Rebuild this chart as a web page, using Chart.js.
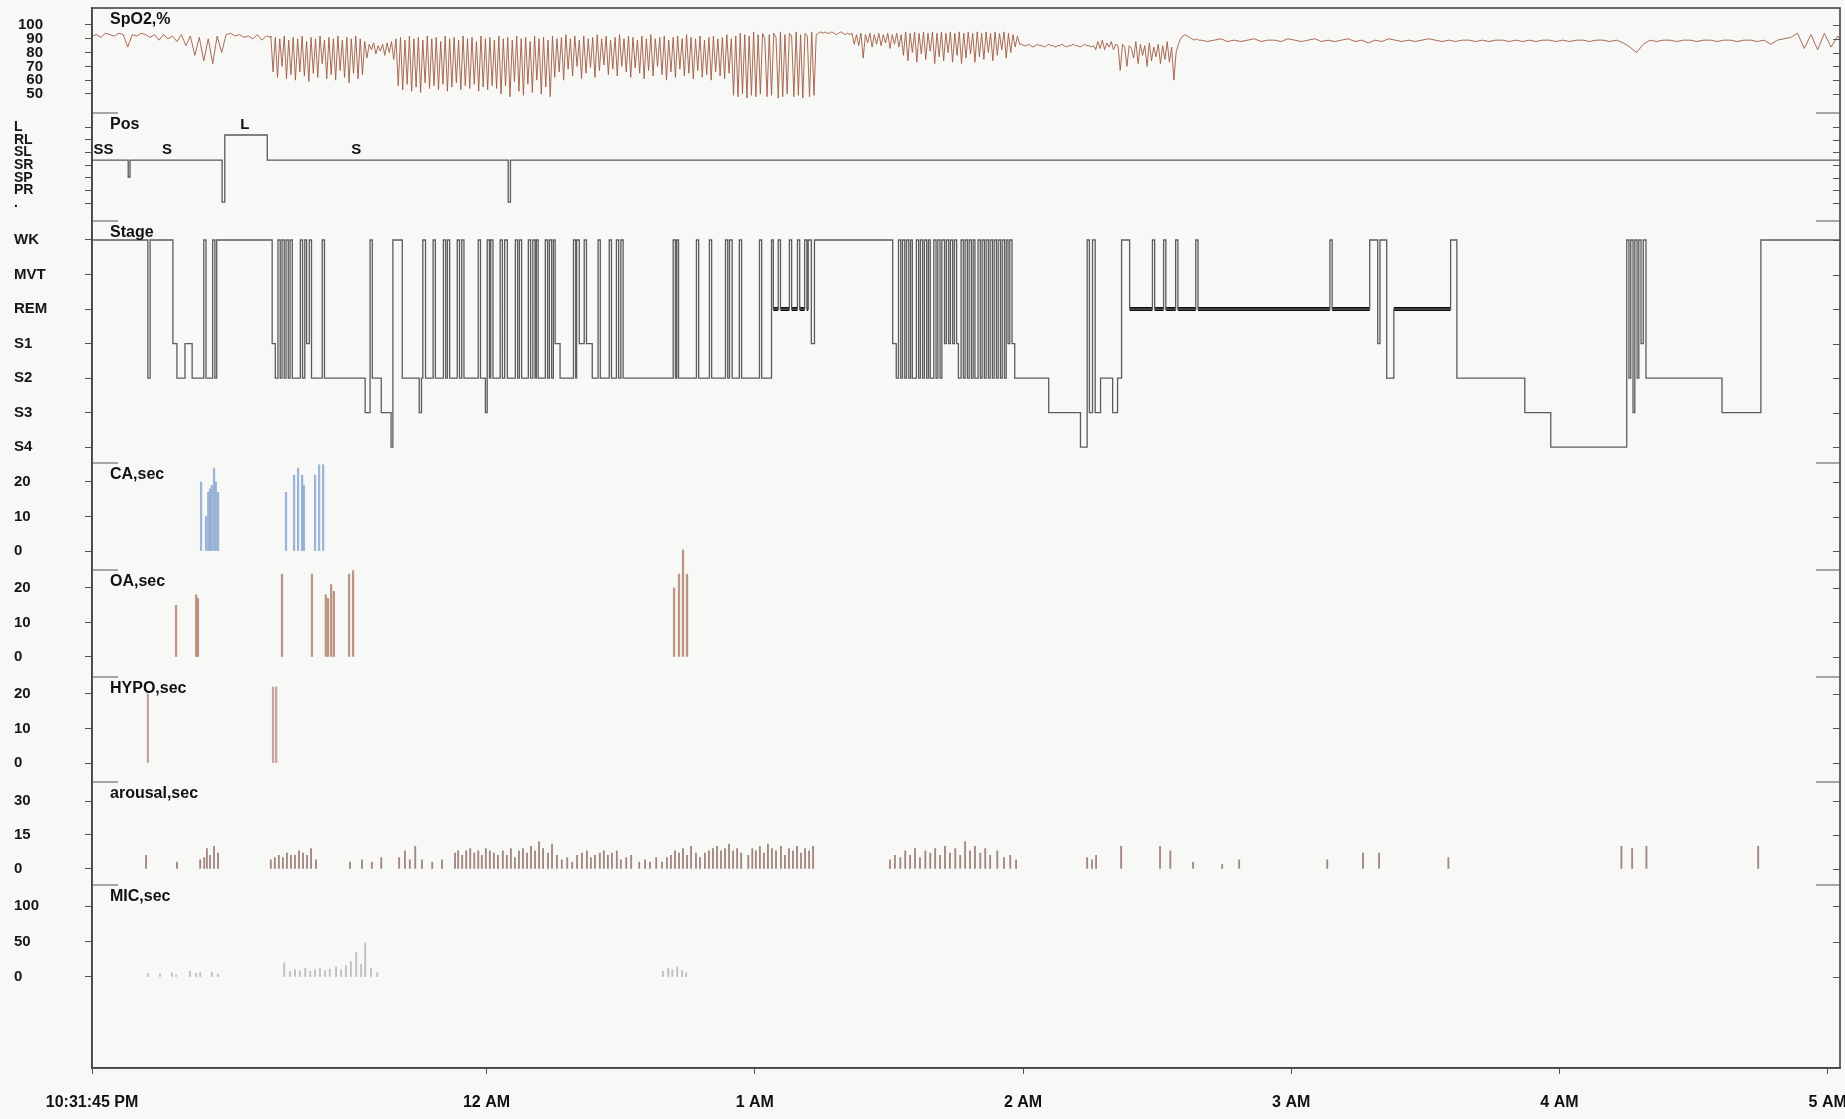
<!DOCTYPE html>
<html>
<head>
<meta charset="utf-8">
<title>Sleep study overview</title>
<script src="https://cdn.jsdelivr.net/npm/chart.js@4.4.1/dist/chart.umd.min.js"></script>
<style>
  html, body { margin: 0; padding: 0; background: #f8f8f6; }
  #psg { display: block; }
</style>
</head>
<body>
<canvas id="psg" width="1845" height="1119"></canvas>
<script>
// time axis in minutes after 10:31:45 PM
var xEnd = 391;
var xTickMinutes = [0, 88.25, 148.25, 208.25, 268.25, 328.25, 388.25];
var xTickLabels = ['10:31:45 PM', '12 AM', '1 AM', '2 AM', '3 AM', '4 AM', '5 AM'];

var panelTitles = ['SpO2,%', 'Pos', 'Stage', 'CA,sec', 'OA,sec', 'HYPO,sec', 'arousal,sec', 'MIC,sec'];

// SpO2 (%), sampled runs: start minute, sample step, values
var spo2RunStart = [0, 40, 163, 208, 248];
var spo2RunStep = [1, 0.5, 0.5, 0.5, 1.5];
var spo2Run0 = [92, 93, 91, 94, 93, 92, 94, 93, 84, 93, 92, 94, 93, 91, 93, 89, 93, 90, 92, 88,
  93, 85, 92, 78, 91, 74, 90, 72, 92, 80, 93, 94, 92, 93, 91, 92, 90, 93, 89, 92, 91];
var spo2Run1 = [
  92, 66, 91, 62, 90, 70, 92, 61, 89, 64,
  91, 60, 90, 66, 92, 63, 88, 59, 91, 65,
  90, 62, 92, 72, 89, 61, 91, 64, 90, 60,
  92, 67, 89, 62, 91, 58, 90, 65, 92, 61,
  90, 64, 88, 76, 86, 82, 87, 79, 85, 81,
  86, 78, 87, 80, 88, 75, 90, 56, 91, 53,
  89, 57, 92, 52, 90, 55, 91, 51, 89, 58,
  92, 54, 90, 56, 91, 53, 88, 57, 92, 52,
  90, 55, 91, 58, 89, 53, 92, 56, 90, 54,
  91, 57, 88, 52, 92, 55, 90, 53, 91, 56,
  89, 54, 92, 50, 90, 56, 91, 48, 89, 59,
  92, 52, 90, 49, 91, 57, 88, 51, 92, 60,
  90, 50, 91, 55, 89, 48, 92, 62, 90, 66,
  91, 60, 93, 68, 90, 63, 92, 70, 89, 61,
  92, 65, 90, 69, 91, 62, 93, 67, 90, 71,
  92, 64, 89, 68, 91, 63, 93, 70, 90, 66,
  92, 62, 91, 69, 89, 65, 92, 61, 90, 67,
  93, 63, 90, 70, 91, 64, 92, 60, 89, 66,
  91, 62, 92, 68, 90, 63, 93, 65, 91, 61,
  90, 67, 92, 62, 89, 64, 91, 60, 92, 66,
  90, 63, 91, 61, 93, 65, 90, 49, 92, 48,
  94, 50, 93, 47, 92, 49, 95, 48, 93, 50,
  94, 90, 48, 93, 49, 94, 91, 47, 95, 48,
  93, 50, 94, 92, 48, 95, 49, 93, 47, 94,
  92, 48, 95, 49, 93, 94, 95];
var spo2Run2 = [
  95, 94, 95, 94, 94, 95, 94, 93, 94, 95, 94, 93, 94, 93, 94,
  86, 93, 85, 94, 76, 93, 87, 94, 84, 93, 86, 94, 85, 93, 87, 94, 83, 93, 86, 94, 84, 93,
  78, 95, 74, 94, 80, 95, 73, 94, 79, 95,
  75, 94, 81, 95, 72, 94, 77, 95, 74, 94,
  80, 95, 73, 94, 78, 95, 72, 94, 76, 95,
  79, 94, 73, 95, 77, 94, 75, 95, 80, 94,
  74, 95, 78, 94, 82, 95, 76, 94, 80, 93,
  84, 92, 86, 86];
var spo2Run3 = [
  86, 85, 85, 86, 85, 84, 85, 86, 85, 85, 84, 85, 86, 85, 85, 84, 85, 85, 86, 85, 84, 85, 85, 86, 85, 85, 84, 85, 86, 85, 85, 84, 85,
  82, 88, 83, 89, 82, 87, 84, 88, 82, 86, 85,
  67, 86, 84, 70, 85, 83,
  76, 88, 72, 86, 78, 85, 70, 87, 74, 84, 77, 86, 72, 85, 75, 88, 73, 84, 60, 80, 86, 90, 92,
  93, 92, 91, 90, 89, 90, 89, 89];
var spo2Run4 = [
  89, 88, 89, 90, 88, 89, 88, 89, 90, 88,
  89, 89, 88, 90, 89, 88, 89, 90, 88, 89,
  88, 89, 90, 88, 89, 87, 89, 88, 90, 89,
  88, 89, 88, 89, 90, 89, 88, 89, 88, 89,
  89, 88, 89, 88, 89, 89, 88, 89, 88, 89,
  88, 89, 89, 88, 89, 88, 89, 89, 88, 89,
  89, 88, 89, 87, 84, 80, 86, 89, 88, 89,
  89, 88, 89, 89, 88, 89, 89, 88, 89, 89,
  88, 89, 89, 88, 89, 86, 89, 90, 91, 94,
  83, 93, 82, 94, 84, 92, 85];
var spo2Ticks = [100, 90, 80, 70, 60, 50];

// body position: axis labels with their tick values, and [minute, level] changes
var posNames = ['L', 'RL', 'SL', 'SR', 'SP', 'PR', '.'];
var posTickValues = [-0.95, 0.56, 2.07, 3.58, 5.09, 6.6, 8.11];
var posSteps = [[0, 3], [8.1, 5], [8.5, 3], [29.1, 8], [29.7, 0], [39.2, 3], [93.1, 8], [93.6, 3], [391, 3]];
var posMarks = [[2.6, 'SS'], [16.8, 'S'], [34.2, 'L'], [59.1, 'S']];

// sleep stage: 0 WK, 1 MVT, 2 REM, 3 S1, 4 S2, 5 S3, 6 S4; [minute, stage] changes
var stageNames = ['WK', 'MVT', 'REM', 'S1', 'S2', 'S3', 'S4'];
var stageSteps = [
  [0, 0], [12.5, 4], [13, 0], [18.1, 3], [19, 4], [20.8, 3], [22.4, 4], [25, 0], [25.5, 4],
  [27, 0], [27.5, 4], [27.9, 0], [40.3, 3], [41, 4], [41.6, 0], [42.1, 4], [42.5, 0], [43, 4],
  [43.4, 0], [43.9, 4], [44.3, 0], [44.8, 4], [46.6, 0], [47.1, 4], [47.6, 0], [48, 3], [48.6, 0],
  [49.1, 4], [51.5, 0], [52, 4], [61.1, 5], [62.2, 0], [62.7, 4], [64.7, 5], [66.9, 6], [67.3, 0],
  [69.4, 4], [73.2, 5], [73.7, 4], [74, 0], [74.6, 4], [76.3, 0], [76.8, 4], [78.6, 0], [79.1, 4],
  [79.5, 0], [80, 4], [81.7, 0], [82.2, 4], [82.7, 0], [83.2, 4], [86.4, 0], [86.9, 4], [88, 5],
  [88.4, 0], [88.9, 4], [89.2, 0], [89.7, 4], [91.3, 0], [91.8, 4], [92.3, 0], [92.9, 4], [94.7, 0],
  [95.2, 4], [95.6, 0], [96.1, 4], [97.6, 0], [98.1, 4], [98.6, 0], [99.1, 4], [99.4, 0], [99.8, 4],
  [101.4, 0], [101.9, 4], [102.3, 0], [102.8, 4], [103.2, 0], [103.6, 3], [104.7, 4], [107.7, 0],
  [108.2, 4], [108.4, 0], [109, 3], [110.1, 0], [110.6, 3], [111.9, 4], [113.2, 0], [113.7, 4],
  [115.7, 0], [116.2, 4], [117.3, 0], [117.8, 4], [118.3, 0], [118.8, 4], [130, 0], [130.5, 4],
  [130.8, 0], [131.2, 4], [135.2, 0], [135.7, 4], [138.1, 0], [138.6, 4], [141.7, 0], [142.2, 4],
  [142.6, 0], [143.2, 4], [144.8, 0], [145.3, 4], [149.3, 0], [149.8, 4], [152, 0], [152.4, 2],
  [153.5, 0], [154, 2], [156, 0], [156.5, 2], [157.8, 0], [158.3, 2], [159.4, 0], [159.9, 2],
  [160.2, 0], [160.9, 3], [161.6, 0], [179.1, 3], [179.9, 4],
  [180.4, 0], [180.9, 4], [181.3, 0], [181.8, 4], [182.2, 0], [182.7, 4], [183.1, 0], [183.5, 4],
  [184.4, 0], [184.9, 4], [185.3, 0], [185.8, 4], [186.2, 0], [186.7, 4], [187.1, 0], [187.5, 4],
  [188.3, 0], [188.8, 4], [189.2, 0], [189.7, 4], [190.1, 0], [190.7, 3], [191.1, 0], [191.6, 3],
  [192, 0], [192.5, 3], [192.9, 0], [193.4, 3], [193.8, 4], [194.4, 0], [194.9, 4], [195.3, 0],
  [195.8, 4], [196.2, 0], [196.7, 4], [197.1, 0], [197.5, 4], [198.2, 0], [198.7, 4], [199.1, 0],
  [199.6, 4], [200, 0], [200.5, 4], [200.9, 0], [201.4, 4], [201.8, 0], [202.3, 4], [202.7, 0],
  [203.2, 4], [203.6, 0], [204.1, 4], [204.5, 0], [204.9, 3], [205.3, 0], [205.8, 3], [206.4, 4],
  [214, 5], [221.1, 6], [222.6, 0], [223.1, 5], [223.8, 0], [224.4, 5], [225.6, 4], [228.3, 5],
  [229.4, 4], [230.3, 0], [232.1, 2], [237.2, 0], [237.7, 2], [239.7, 0], [240.2, 2], [242.4, 0],
  [242.9, 2], [246.9, 0], [247.4, 2], [276.9, 0], [277.4, 2], [285.8, 0], [287.6, 3], [288.1, 0],
  [289.6, 4], [291.2, 2], [303.9, 0], [305.3, 4], [320.5, 5], [326.3, 6], [343.3, 0], [343.8, 4],
  [344.2, 0], [344.7, 5], [345.1, 0], [345.6, 4], [346, 0], [346.5, 3], [347, 0], [347.6, 4],
  [364.6, 5], [373.3, 0], [391, 0]
];

// respiratory events: [minute, duration in seconds]
var caBars = [[24.4, 20], [25.5, 10], [26, 17], [26.4, 18], [26.8, 19], [27.3, 24], [27.7, 20], [28.2, 17],
  [43.4, 17], [45.2, 22], [46.1, 24], [47, 22], [47.4, 19], [49.9, 22], [50.8, 25], [51.7, 25]];
var oaBars = [[18.8, 15], [23.3, 18], [23.7, 17], [42.5, 24], [49.2, 24], [52.3, 18], [52.8, 17], [53.5, 21],
  [54.1, 19], [57.5, 24], [58.4, 25], [130.2, 20], [131.3, 24], [132.2, 31], [133.1, 24]];
var hypoBars = [[12.5, 20], [40.5, 22], [41.2, 22]];
var eventTicks = [20, 10, 0];

var arousalBars = [
  [12.1, 6], [19, 3], [24.2, 4], [25.1, 5], [25.7, 9], [26.4, 6], [27.3, 10], [28.2, 7],
  [40, 4], [40.9, 5], [41.8, 6], [42.7, 5], [43.6, 7], [44.5, 6], [45.4, 6], [46.3, 8], [47.2, 7], [48.1, 6], [49, 9], [50.1, 4],
  [57.7, 3], [60.4, 4], [62.6, 3], [64.7, 5],
  [68.7, 5], [70, 8], [71.1, 4], [72.3, 10], [73.8, 4], [76.1, 3], [78.3, 4],
  [81.2, 7], [81.9, 8], [82.8, 6], [83.7, 8], [84.6, 9], [85.5, 7], [86.4, 8], [87.2, 6], [88.1, 9], [89, 8], [89.9, 7], [90.8, 6],
  [91.9, 8], [92.8, 6], [93.7, 9], [94.6, 5], [95.5, 8], [96.4, 9], [97.3, 7], [98.2, 10], [99.1, 8], [100, 12], [100.9, 9], [102, 7], [102.9, 11], [104, 6],
  [105.1, 4], [106.3, 5], [107.4, 3], [108.5, 6], [109.6, 7], [110.7, 8], [111.6, 5], [112.5, 6],
  [113.6, 7], [114.5, 8], [115.4, 6], [116.3, 7], [117.4, 8], [118.3, 4], [119.5, 5], [120.6, 6],
  [122.4, 3], [123.7, 4], [124.8, 3], [126.2, 5], [127.5, 3],
  [128.6, 5], [129.5, 6], [130.4, 8], [131.3, 7], [132.2, 9], [133.1, 6], [134, 10], [135.1, 7], [136, 5],
  [137.1, 7], [138, 8], [138.9, 9], [139.8, 10], [140.7, 8], [141.6, 9], [142.5, 11], [143.4, 8], [144.3, 9], [145.2, 7],
  [146.8, 6], [147.7, 9], [148.5, 8], [149.4, 10], [150.3, 7], [151.2, 11], [152.1, 9], [153, 8],
  [154.1, 10], [155, 6], [155.9, 9], [156.8, 8], [157.7, 10], [158.6, 7], [159.5, 9], [160.4, 8], [161.3, 10],
  [178.5, 4], [179.6, 6], [180.8, 5], [181.9, 8], [183, 6], [184.1, 9], [185.2, 5], [186.4, 8], [187.5, 7], [188.6, 9],
  [189.7, 6], [190.8, 10], [191.9, 7], [193.1, 9], [194.2, 6], [195.3, 12], [196.4, 8], [197.5, 10], [198.7, 7], [199.8, 9],
  [200.9, 6], [202.5, 8], [204, 5], [205.4, 6], [206.7, 4],
  [222.6, 5], [223.7, 4], [224.6, 6], [230.2, 10], [238.9, 10], [241.2, 8], [246.3, 3], [252.8, 2], [256.6, 4],
  [276.3, 4], [284.3, 7], [287.9, 7], [303.4, 5], [342.1, 10], [344.5, 9], [347.7, 10], [372.7, 10]
];
var arousalTicks = [30, 15, 0];

var micBars = [
  [12.5, 5], [15.2, 4], [17.9, 6], [18.8, 3], [21.9, 8], [23.3, 5], [24.2, 6], [26.8, 7], [28.2, 4],
  [43, 20], [44.3, 8], [45.4, 10], [46.5, 9], [47.7, 12], [48.8, 8], [49.9, 10], [51, 12], [52.1, 9], [53.2, 11],
  [54.6, 14], [55.7, 10], [56.8, 16], [57.9, 22], [59.1, 35], [60.2, 18], [61.1, 48], [62.4, 12], [63.8, 6],
  [127.7, 8], [128.9, 12], [129.8, 10], [130.9, 14], [132, 9], [132.9, 6]
];
var micTicks = [100, 50, 0];

function toPoints(pairs) {
  return pairs.map(function (p) { return { x: p[0], y: p[1] }; });
}

function runPoints(start, step, values) {
  return values.map(function (v, i) { return { x: start + i * step, y: v }; });
}

function stepValueAt(steps, t) {
  var v = steps[0][1];
  for (var i = 0; i < steps.length; i++) {
    if (steps[i][0] <= t) v = steps[i][1];
  }
  return v;
}

var fontFamily = "'Liberation Sans', Arial, sans-serif";
var labelFont = { family: fontFamily, size: 15, weight: 'bold' };

function panelAxis(weight, height, min, max, ticks, extra) {
  var axis = {
    type: 'linear', position: 'left', stack: 'panels', weight: weight, stackWeight: height,
    min: min, max: max,
    afterBuildTicks: function (s) { s.ticks = ticks.map(function (v) { return { value: v }; }); },
    afterFit: function (s) { s.width = 78; s.paddingTop = 0; s.paddingBottom = 0; },
    grid: { drawOnChartArea: false, drawTicks: true, tickLength: 7, color: '#555' },
    border: { display: true, color: '#4a4a4a', width: 1.5 },
    ticks: { autoSkip: false, crossAlign: 'far', color: '#161616', font: labelFont }
  };
  if (extra) {
    Object.keys(extra).forEach(function (k) {
      axis[k] = typeof extra[k] === 'object' && axis[k] ? Object.assign({}, axis[k], extra[k]) : extra[k];
    });
  }
  return axis;
}

var panelIds = ['ySpo2', 'yPos', 'yStage', 'yCa', 'yOa', 'yHypo', 'yArousal', 'yMic'];

var panelDecor = {
  id: 'panelDecor',
  afterDraw: function (chart) {
    var ctx = chart.ctx, a = chart.chartArea;
    function line(x1, y1, x2, y2) { ctx.beginPath(); ctx.moveTo(x1, y1); ctx.lineTo(x2, y2); ctx.stroke(); }
    ctx.save();
    ctx.strokeStyle = '#444';
    ctx.lineWidth = 1.6;
    ctx.strokeRect(a.left, a.top, a.right - a.left, a.bottom - a.top);
    ctx.lineWidth = 1;
    ctx.strokeStyle = '#555';
    ctx.fillStyle = '#111';
    ctx.font = 'bold 16px ' + fontFamily;
    ctx.textBaseline = 'top';
    ctx.textAlign = 'left';
    panelIds.forEach(function (id, k) {
      var s = chart.scales[id];
      if (k > 0) {
        line(a.left, s.top, a.left + 26, s.top);
        line(a.right - 24, s.top, a.right, s.top);
      }
      s.ticks.forEach(function (t) {
        var y = Math.round(s.getPixelForValue(t.value)) + 0.5;
        line(a.right - 7, y, a.right, y);
      });
      ctx.fillText(panelTitles[k], a.left + 18, s.top + 4);
    });
    // position codes written above the trace
    var xs = chart.scales.x, ps = chart.scales.yPos;
    ctx.textAlign = 'center';
    ctx.textBaseline = 'bottom';
    ctx.font = 'bold 15px ' + fontFamily;
    posMarks.forEach(function (m) {
      ctx.fillText(m[1], xs.getPixelForValue(m[0]), ps.getPixelForValue(stepValueAt(posSteps, m[0])) - 3);
    });
    ctx.restore();
  }
};

window.onload = function () {
  var spo2Points = []
    .concat(runPoints(spo2RunStart[0], spo2RunStep[0], spo2Run0))
    .concat(runPoints(spo2RunStart[1], spo2RunStep[1], spo2Run1))
    .concat(runPoints(spo2RunStart[2], spo2RunStep[2], spo2Run2))
    .concat(runPoints(spo2RunStart[3], spo2RunStep[3], spo2Run3))
    .concat(runPoints(spo2RunStart[4], spo2RunStep[4], spo2Run4));

  // REM periods get a heavy bar along the REM level
  var remPoints = [];
  for (var i = 0; i < stageSteps.length - 1; i++) {
    if (stageSteps[i][1] === 2) {
      remPoints.push({ x: stageSteps[i][0], y: 2 }, { x: stageSteps[i + 1][0], y: 2 }, { x: stageSteps[i + 1][0], y: null });
    }
  }

  function bars(axisId, pairs, color, thickness) {
    return { type: 'bar', yAxisID: axisId, data: toPoints(pairs), backgroundColor: color,
      barThickness: thickness, grouped: false, borderWidth: 0 };
  }

  var ctx = document.getElementById('psg').getContext('2d');
  var psgChart = new Chart(ctx, {
    type: 'line',
    data: {
      datasets: [
        { yAxisID: 'ySpo2', data: spo2Points, borderColor: 'rgba(160, 92, 66, 0.9)', borderWidth: 1, pointRadius: 0, tension: 0 },
        { yAxisID: 'yPos', data: toPoints(posSteps), borderColor: '#5a5a5a', borderWidth: 1.3, pointRadius: 0, stepped: true },
        { yAxisID: 'yStage', data: toPoints(stageSteps), borderColor: '#5c5c5c', borderWidth: 1.3, pointRadius: 0, stepped: true },
        { yAxisID: 'yStage', data: remPoints, borderColor: '#111', borderWidth: 4, pointRadius: 0, spanGaps: false },
        bars('yCa', caBars, 'rgba(125, 158, 206, 0.75)', 1.6),
        Object.assign(bars('yOa', oaBars, 'rgba(172, 124, 104, 0.8)', 1.6), { clip: false }),
        bars('yHypo', hypoBars, 'rgba(192, 145, 145, 0.85)', 1.6),
        bars('yArousal', arousalBars, 'rgba(140, 108, 98, 0.8)', 1.2),
        bars('yMic', micBars, 'rgba(180, 180, 180, 0.85)', 1.2)
      ]
    },
    options: {
      responsive: false,
      devicePixelRatio: 1,
      animation: false,
      events: [],
      layout: { padding: { left: 14, top: 8, right: 5, bottom: 0 } },
      plugins: { legend: { display: false }, tooltip: { enabled: false } },
      scales: {
        x: {
          type: 'linear', position: 'bottom', min: 0, max: xEnd, offset: false,
          afterBuildTicks: function (s) { s.ticks = xTickMinutes.map(function (v) { return { value: v }; }); },
          afterFit: function (s) { s.height = 51; s.paddingLeft = 0; s.paddingRight = 0; },
          grid: { drawOnChartArea: false, offset: false, tickLength: 6, color: '#555' },
          border: { display: true, color: '#444', width: 1.6 },
          ticks: {
            autoSkip: false, maxRotation: 0, padding: 19, color: '#111',
            font: { family: fontFamily, size: 16, weight: 'bold' },
            callback: function (v, i) { return xTickLabels[i]; }
          }
        },
        ySpo2: panelAxis(8, 105, 36.2, 112.3, spo2Ticks, { ticks: { crossAlign: 'near', padding: 42 } }),
        yPos: panelAxis(7, 108, -2.62, 10.24, posTickValues, {
          reverse: true,
          ticks: { font: { family: fontFamily, size: 14, weight: 'bold' }, callback: function (v, i) { return posNames[i]; } }
        }),
        yStage: panelAxis(6, 242, -0.55, 6.46, [0, 1, 2, 3, 4, 5, 6], {
          reverse: true, ticks: { callback: function (v) { return stageNames[v]; } }
        }),
        yCa: panelAxis(5, 107, -5.5, 25.5, eventTicks),
        yOa: panelAxis(4, 107, -5.8, 25.2, eventTicks),
        yHypo: panelAxis(3, 105, -5.5, 24.9, eventTicks),
        yArousal: panelAxis(2, 103, -7.1, 38.4, arousalTicks),
        yMic: panelAxis(1, 183, -128.2, 129.6, micTicks)
      }
    },
    plugins: [panelDecor]
  });
};
</script>
</body>
</html>
